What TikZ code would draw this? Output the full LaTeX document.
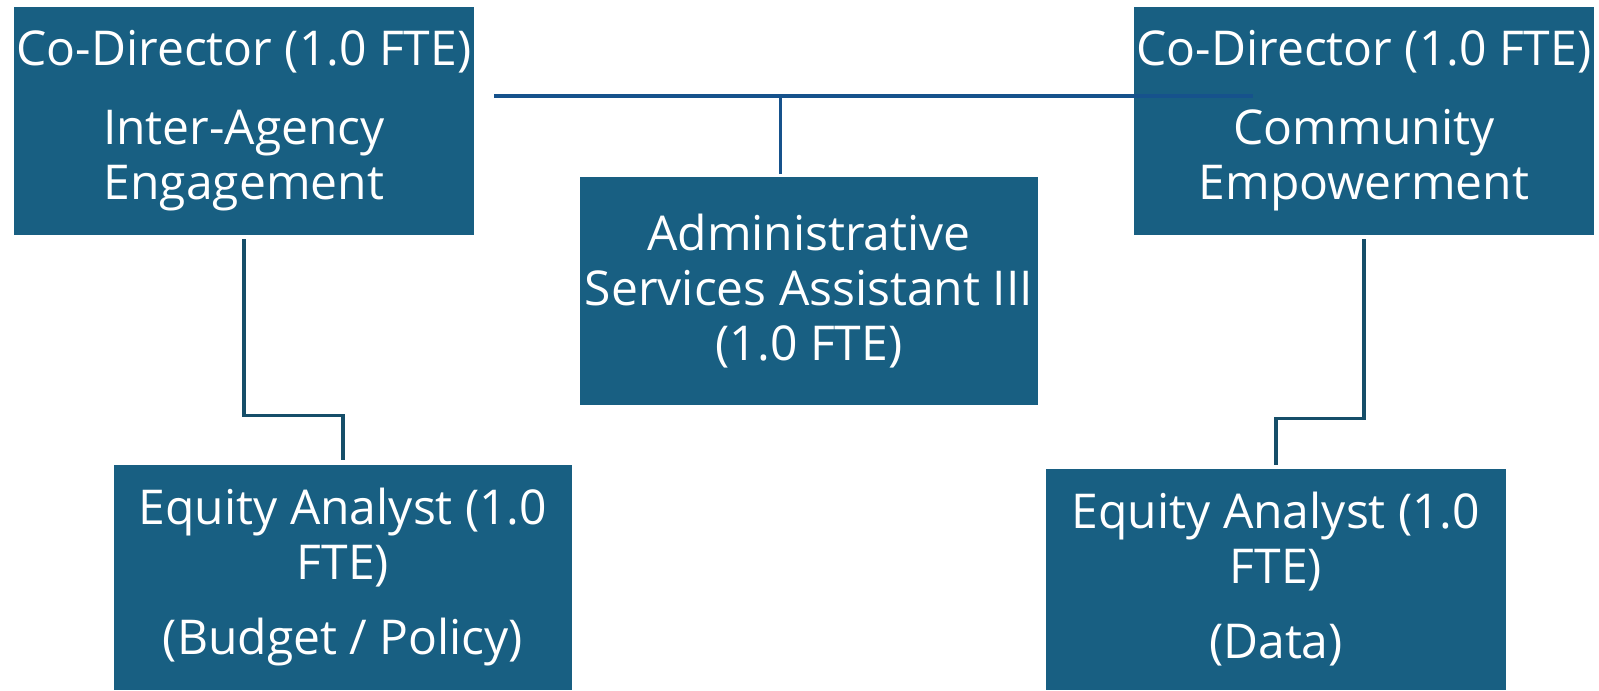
\documentclass[tikz,border=0pt]{standalone}
\usepackage{fontspec}
\setmainfont{Open Sans}
\usetikzlibrary{calc}
\definecolor{boxblue}{RGB}{24,95,130}
\definecolor{topline}{RGB}{22,82,140}
\definecolor{elbow}{RGB}{22,78,105}
\tikzset{
  orgbox/.style={fill=boxblue, draw=none, inner sep=0pt, text=white, align=center},
  bigtext/.style={font=\fontsize{48}{55}\selectfont},
  toplink/.style={draw=topline, line width=4pt},
  elbowlink/.style={draw=elbow, line width=3.3pt}
}
\begin{document}
\begin{tikzpicture}[x=1pt,y=-1pt]
\useasboundingbox (0,0) rectangle (1599,691);
\node[orgbox, bigtext, minimum width=460pt, minimum height=228pt] (b1) at (244,121)
  {Co-Director (1.0 FTE)\\[24pt]Inter-Agency\\Engagement};
\node[orgbox, bigtext, minimum width=460pt, minimum height=228pt] (b3) at (1364,121)
  {Co-Director (1.0 FTE)\\[24pt]Community\\Empowerment};
\node[orgbox, bigtext, minimum width=458pt, minimum height=228pt] (adm) at (809,291)
  {Administrative\\Services Assistant III\\(1.0 FTE)};
\node[orgbox, bigtext, minimum width=458pt, minimum height=225pt] (eqb) at (343,577.5)
  {Equity Analyst (1.0\\FTE)\\[20pt](Budget / Policy)};
\node[orgbox, bigtext, minimum width=460pt, minimum height=221pt] (eqd) at (1276,579.5)
  {Equity Analyst (1.0\\FTE)\\[20pt](Data)};
% top connector
\coordinate (hl) at (494,96);
\coordinate (hr) at (1253,96);
\coordinate (tj) at (780,96);
\draw[toplink] (hl) -- (hr);
\draw[toplink, line width=3pt] (tj) -- ($(tj |- adm.north)+(0,-3)$);
% elbows
\draw[elbowlink] ($(b1.south)+(0,4)$) -- ($(b1.south)+(0,180)$) -| ($(eqb.north)+(0,-5)$);
\draw[elbowlink] ($(b3.south)+(0,4)$) -- ($(b3.south)+(0,183)$) -| ($(eqd.north)+(0,-4)$);
\end{tikzpicture}
\end{document}
